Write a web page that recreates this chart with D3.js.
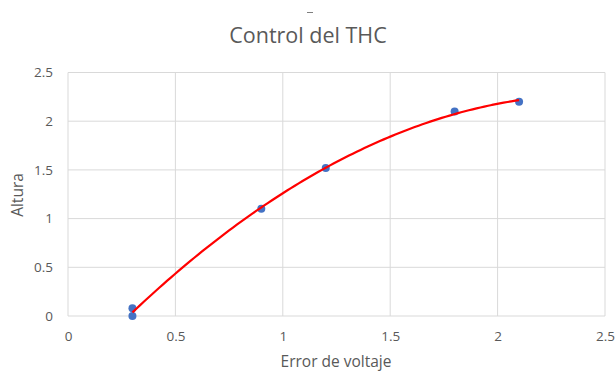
<!DOCTYPE html>
<html>
<head>
<meta charset="utf-8">
<script src="https://cdn.jsdelivr.net/npm/d3@7"></script>
<style>
  html, body { margin: 0; padding: 0; background: #ffffff; }
  svg { display: block; font-family: "Open Sans", "Liberation Sans", sans-serif; }
</style>
</head>
<body>
<svg id="chart" width="616" height="372"></svg>
<script>
// Measurements: voltage error vs. height
const errorVoltaje = [0.3, 0.3, 0.9, 1.2, 1.8, 2.1];
const altura = [0.0, 0.08, 1.1, 1.52, 2.1, 2.2];
const xTicks = [0, 0.5, 1, 1.5, 2, 2.5];
const yTicks = [0, 0.5, 1, 1.5, 2, 2.5];
const chartTitle = "Control del THC";
const xTitle = "Error de voltaje";
const yTitle = "Altura";

const svg = d3.select("#chart");
const margin = { left: 68, right: 11, top: 72.5, bottom: 56 };
const W = 616, H = 372;

const x = d3.scaleLinear().domain([0, 2.5]).range([margin.left, W - margin.right]);
const y = d3.scaleLinear().domain([0, 2.5]).range([H - margin.bottom, margin.top]);

const grey = "#595959";

// gridlines
svg.append("g").selectAll("line.v").data(xTicks).join("line")
  .attr("x1", d => x(d)).attr("x2", d => x(d))
  .attr("y1", y(0)).attr("y2", y(2.5))
  .attr("stroke", "#d9d9d9").attr("stroke-width", 1);
svg.append("g").selectAll("line.h").data(yTicks).join("line")
  .attr("x1", x(0)).attr("x2", x(2.5))
  .attr("y1", d => y(d)).attr("y2", d => y(d))
  .attr("stroke", "#d9d9d9").attr("stroke-width", 1);

// tick labels via axes
const xAxis = svg.append("g")
  .attr("transform", `translate(0,${y(0)})`)
  .call(d3.axisBottom(x).tickValues(xTicks).tickSize(0).tickPadding(15).tickFormat(d3.format("")));
const yAxis = svg.append("g")
  .attr("transform", `translate(${x(0)},0)`)
  .call(d3.axisLeft(y).tickValues(yTicks).tickSize(0).tickPadding(15).tickFormat(d3.format("")));
[xAxis, yAxis].forEach(a => {
  a.select(".domain").remove();
  a.selectAll("text").attr("fill", grey).style("font-size", "13.5px").style("font-family", "\"Open Sans\", sans-serif");
});

// quadratic least-squares trendline
function polyfit2(xs, ys) {
  const n = xs.length;
  let s = [0, 0, 0, 0, 0], t = [0, 0, 0];
  for (let i = 0; i < n; i++) {
    for (let k = 0; k < 5; k++) s[k] += Math.pow(xs[i], k);
    for (let k = 0; k < 3; k++) t[k] += ys[i] * Math.pow(xs[i], k);
  }
  const A = [[s[0], s[1], s[2], t[0]], [s[1], s[2], s[3], t[1]], [s[2], s[3], s[4], t[2]]];
  for (let c = 0; c < 3; c++) {
    for (let r = c + 1; r < 3; r++) {
      const f = A[r][c] / A[c][c];
      for (let k = c; k < 4; k++) A[r][k] -= f * A[c][k];
    }
  }
  const b = [0, 0, 0];
  for (let r = 2; r >= 0; r--) {
    let v = A[r][3];
    for (let k = r + 1; k < 3; k++) v -= A[r][k] * b[k];
    b[r] = v / A[r][r];
  }
  return b;
}
const coef = polyfit2(errorVoltaje, altura);
const [xmin, xmax] = d3.extent(errorVoltaje);
const trend = d3.range(0, 101).map(i => {
  const xv = xmin + (xmax - xmin) * i / 100;
  return [xv, coef[0] + coef[1] * xv + coef[2] * xv * xv];
});

// markers
svg.append("g").selectAll("circle").data(errorVoltaje.map((d, i) => [d, altura[i]])).join("circle")
  .attr("cx", d => x(d[0])).attr("cy", d => y(d[1]))
  .attr("r", 4).attr("fill", "#4472c4");

svg.append("path").datum(trend)
  .attr("d", d3.line().x(d => x(d[0])).y(d => y(d[1])).curve(d3.curveMonotoneX))
  .attr("fill", "none").attr("stroke", "#ff0000").attr("stroke-width", 2.2);

// titles
svg.append("text").attr("x", 308).attr("y", 43).attr("text-anchor", "middle")
  .attr("fill", grey).style("font-size", "21.5px").text(chartTitle);
svg.append("line").attr("x1", 307).attr("x2", 313).attr("y1", 12.5).attr("y2", 12.5)
  .attr("stroke", "#7f7f7f").attr("stroke-width", 1);
svg.append("text").attr("x", 336).attr("y", 367).attr("text-anchor", "middle")
  .attr("fill", grey).style("font-size", "15.5px").text(xTitle);
svg.append("text").attr("transform", "translate(23,195) rotate(-90)").attr("text-anchor", "middle")
  .attr("fill", grey).style("font-size", "15.5px").text(yTitle);
</script>
</body>
</html>
